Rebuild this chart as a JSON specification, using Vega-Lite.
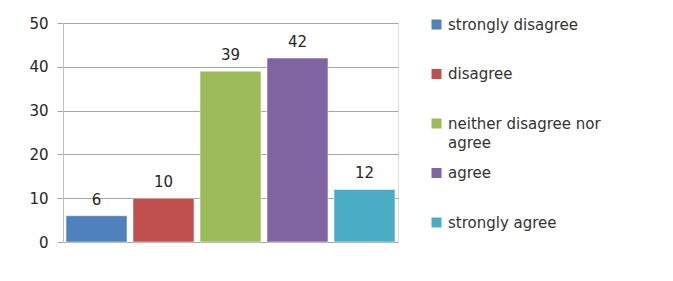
{
  "$schema": "https://vega.github.io/schema/vega-lite/v6.json",
  "width": 335,
  "height": 219,
  "autosize": {"type": "none"},
  "padding": {"left": 63, "top": 23, "right": 275, "bottom": 39},
  "background": "white",
  "config": {"style": {"guide-label": {"lineHeight": 19}}},
  "data": {
    "values": [
      {"response": "strongly disagree", "count": 6},
      {"response": "disagree", "count": 10},
      {"response": "neither disagree nor agree", "count": 39},
      {"response": "agree", "count": 42},
      {"response": "strongly agree", "count": 12}
    ]
  },
  "encoding": {
    "x": {
      "field": "response",
      "type": "nominal",
      "sort": null,
      "scale": {"paddingInner": 0.09, "paddingOuter": 0.045},
      "axis": {"title": null, "labels": false, "ticks": false, "domainColor": "#a6a6a6", "grid": false}
    },
    "y": {
      "field": "count",
      "type": "quantitative",
      "scale": {"domain": [0, 50], "nice": false},
      "axis": {
        "title": null,
        "values": [0, 10, 20, 30, 40, 50],
        "tickSize": 6,
        "tickColor": "#a6a6a6",
        "domainColor": "#bfbfbf",
        "gridColor": "#a6a6a6",
        "labelPadding": 9,
        "labelFont": "DejaVu Sans",
        "labelFontSize": 15,
        "labelColor": "#262626"
      }
    }
  },
  "layer": [
    {
      "mark": {"type": "bar", "strokeWidth": 1, "stroke": "white", "strokeOpacity": 0.5},
      "encoding": {
        "color": {
          "field": "response",
          "type": "nominal",
          "sort": null,
          "scale": {
            "domain": ["strongly disagree", "disagree", "neither disagree nor agree", "agree", "strongly agree"],
            "range": ["#4F81BD", "#C0504D", "#9BBB59", "#8064A2", "#4BACC6"]
          },
          "legend": {
            "title": null,
            "orient": "none",
            "legendX": 366,
            "legendY": -6,
            "padding": 0,
            "symbolType": "square",
            "symbolSize": 100,
            "symbolStrokeWidth": 0,
            "labelOffset": 4,
            "rowPadding": 14.5,
            "labelFont": "DejaVu Sans",
            "labelFontSize": 15,
            "labelColor": "#333333",
            "labelLimit": 250,
            "labelBaseline": "middle",
            "labelExpr": "datum.label == 'neither disagree nor agree' ? ['neither disagree nor', 'agree'] : [datum.label, ' ']",
            "encode": {
              "labels": {
                "enter": {"lineHeight": {"value": 19}},
                "update": {
                  "lineHeight": {"value": 19},
                  "dy": {"value": 9.5}
                }
              }
            }
          }
        }
      }
    },
    {
      "mark": {"type": "text", "dy": -11, "baseline": "alphabetic", "font": "DejaVu Sans", "fontSize": 15, "color": "#262626"},
      "encoding": {"text": {"field": "count", "type": "quantitative"}}
    }
  ]
}
